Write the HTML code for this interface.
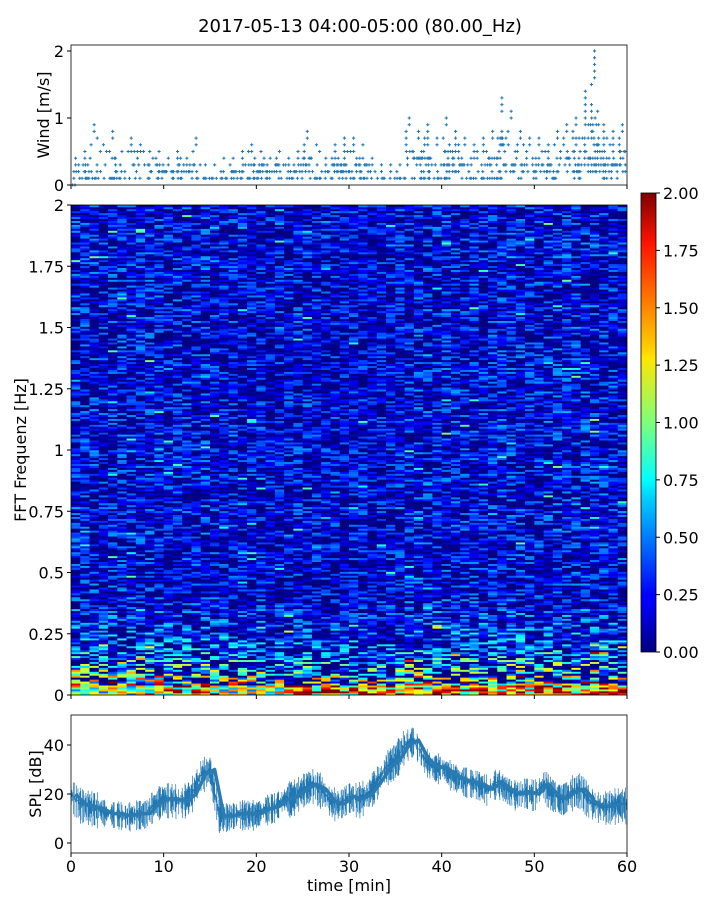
<!DOCTYPE html>
<html><head><meta charset="utf-8">
<style>
body{margin:0;background:#fff;width:720px;height:900px;overflow:hidden;font-family:"Liberation Sans","DejaVu Sans",sans-serif;}
svg text{font-family:"DejaVu Sans","Liberation Sans",sans-serif;fill:#000;}
</style></head>
<body>
<svg id="fig" width="720" height="900" xmlns="http://www.w3.org/2000/svg">
<defs>
<linearGradient id="jet" x1="0" y1="1" x2="0" y2="0">
<stop offset="0" stop-color="#00007f"/><stop offset="0.11" stop-color="#0000ff"/><stop offset="0.125" stop-color="#0000ff"/>
<stop offset="0.34" stop-color="#00d4ff"/><stop offset="0.375" stop-color="#00ffff"/><stop offset="0.5" stop-color="#7dff7a"/>
<stop offset="0.64" stop-color="#ffe600"/><stop offset="0.66" stop-color="#ffd000"/><stop offset="0.89" stop-color="#ff1300"/><stop offset="1" stop-color="#7f0000"/>
</linearGradient>
<clipPath id="cpSpec"><rect x="71" y="205" width="556" height="490"/></clipPath>
<clipPath id="cpSpl"><rect x="71" y="715" width="556" height="138"/></clipPath>
</defs>
<text x="360" y="32" font-size="18" text-anchor="middle">2017-05-13 04:00-05:00 (80.00_Hz)</text>
<g id="wind"></g>
<g id="spec"></g>
<g id="cbar"></g>
<g id="spl"></g>
</svg>
<script>
const minutes = [];
for (let i = 0; i < 60; i++) minutes.push(i);
const windMin = [0,0.1,0.1,0.1,0.1,0.1,0.1,0.1,0.1,0.1,0.1,0.1,0.1,0.1,0.1,0.1,0.1,0.1,0.1,0.1,0.1,0.1,0.1,0.1,0.1,0.1,0.1,0.1,0.1,0.1,0.1,0.1,0.1,0.1,0.1,0.1,0.1,0.1,0.1,0.1,0.1,0.1,0.1,0.1,0.1,0.1,0.1,0.2,0.1,0.1,0.1,0.1,0.1,0.2,0.1,0.2,0.2,0.1,0.1,0.2];
const windMax = [0.4,0.5,0.9,0.6,0.8,0.5,0.7,0.6,0.5,0.5,0.4,0.5,0.4,0.7,0.3,0.3,0.4,0.4,0.5,0.6,0.5,0.4,0.5,0.4,0.5,0.8,0.6,0.4,0.6,0.7,0.7,0.6,0.4,0.3,0.3,0.3,1.0,0.8,0.9,0.7,1.0,0.8,0.7,0.6,0.7,0.8,1.3,1.1,0.8,0.7,0.7,0.6,0.8,0.9,1.0,1.4,2.0,0.9,0.8,0.9];
const lowBand = [1.4,1.2,1.5,1.2,1.3,1.4,1.2,1.3,1.5,1.4,1.6,1.8,1.9,2.0,2.0,2.0,1.4,1.2,1.2,1.3,1.2,1.3,1.5,1.7,1.6,1.8,1.9,2.0,1.8,1.9,2.0,1.9,1.8,1.9,1.9,1.7,1.6,1.8,1.5,1.9,1.7,1.9,2.0,1.9,1.9,1.8,2.0,1.9,2.0,1.9,1.9,2.0,1.9,1.9,2.0,1.9,2.0,1.9,1.9,2.0];
const bgLevel = [0.38,0.36,0.37,0.35,0.36,0.37,0.35,0.36,0.37,0.36,0.35,0.36,0.37,0.36,0.38,0.35,0.33,0.34,0.33,0.33,0.34,0.33,0.33,0.34,0.35,0.35,0.34,0.33,0.33,0.32,0.33,0.33,0.31,0.32,0.33,0.34,0.37,0.38,0.37,0.36,0.37,0.36,0.37,0.36,0.35,0.36,0.37,0.36,0.37,0.36,0.36,0.37,0.38,0.37,0.39,0.38,0.39,0.37,0.36,0.36];
const freqProfile = [4.0,3.6,3.1,2.6,2.2,2.0,1.8,1.6,1.5,1.4,1.35,1.3,1.2,1.15,1.1,1.05,1.0];
const splMean = [20,16,15,14,12,12,11,12,12,16,18,18,17,20,28,30,11,11,12,12,12,14,15,18,19,22,24,22,17,16,19,18,20,25,31,34,40,42,35,31,31,28,26,25,24,22,25,22,20,21,20,24,20,18,21,22,17,15,15,16];
const splRange = [7,7,7,6,6,6,6,6,6,7,7,7,7,7,7,7,6,6,6,6,6,6,6,7,7,7,7,7,7,7,7,7,7,7,7,7,6,6,6,6,6,6,6,6,6,6,6,6,6,6,6,7,6,6,7,7,7,7,7,7];
const windTicks = [0,1,2];
const specTicks = ['0','0.25','0.5','0.75','1','1.25','1.5','1.75','2'];
const cbTicks = ['0.00','0.25','0.50','0.75','1.00','1.25','1.50','1.75','2.00'];
const splTicks = [0,20,40];
const timeTicks = [0,10,20,30,40,50,60];

const NS='http://www.w3.org/2000/svg';
function mk(tag, attrs, parent){const e=document.createElementNS(NS,tag);for(const k in attrs)e.setAttribute(k,attrs[k]);parent.appendChild(e);return e;}
const X = m => 71 + m*556/60;
const Yw = v => 185 - v*67;
const Yf = f => 695 - f*245;
const Ys = v => 843 - v*2.45;
const Yc = v => 652 - v*229.5;
function jet(v){v=Math.max(0,Math.min(1,v));
 const r=Math.max(0,Math.min(1,1.5-Math.abs(4*v-3))),g=Math.max(0,Math.min(1,1.5-Math.abs(4*v-2))),b=Math.max(0,Math.min(1,1.5-Math.abs(4*v-1)));
 return `rgb(${Math.round(r*255)},${Math.round(g*255)},${Math.round(b*255)})`;}
function tex(a,b){let h=(a*374761393+b*668265263)>>>0;h=((h^(h>>>13))*1274126177)>>>0;return ((h^(h>>>16))%1000)/1000;}

// ---- Wind panel
const wind=document.getElementById('wind');
const wp=mk('g',{},wind);
minutes.forEach(m=>{
  for(let lv=Math.round(windMin[m]*10); lv<=Math.round(windMax[m]*10); lv++){
    const v=lv/10; const frac=(v-windMin[m])/Math.max(0.1,windMax[m]-windMin[m]);
    const n = frac>0.8?1:(frac>0.5?3:8);
    for(let s=0;s<n;s++){
      if(n>1 && tex(m*13+lv,s+3)<0.3) continue;
      const x=X(m+(s+0.5)/n); const y=Yw(v);
      const p=mk('path',{d:`M${x-1.6},${y}h3.2M${x},${y-1.6}v3.2`,stroke:'#1f77b4','stroke-width':1},wp);
      
      
    }
  }
});
const wf=mk('rect',{x:71,y:45,width:556,height:140,fill:'none',stroke:'#000','stroke-width':0.8},wind);

windTicks.forEach(t=>{mk('line',{x1:67,x2:71,y1:Yw(t),y2:Yw(t),stroke:'#000'},wind);
 const tt=mk('text',{x:64,y:Yw(t)+6,'font-size':16,'text-anchor':'end'},wind);tt.textContent=t;
 });
timeTicks.forEach(t=>mk('line',{x1:X(t),x2:X(t),y1:185,y2:189,stroke:'#000'},wind));
const wl=mk('text',{x:0,y:0,'font-size':16,'text-anchor':'middle',transform:'translate(49,115) rotate(-90)'},wind);wl.textContent='Wind [m/s]';


// ---- Spectrogram
const spec=document.getElementById('spec');
const sg=mk('g',{'clip-path':'url(#cpSpec)'},spec);
mk('rect',{x:71,y:205,width:556,height:490,fill:jet(0.17)},sg);
const NR=250, df=2/NR;
minutes.forEach(m=>{
  for(let r=0;r<NR;r++){
    const f=r*df;
    let v;
    const pi=Math.floor(f/0.025);
    const prof = pi<freqProfile.length?freqProfile[pi]:1.0;
    v = bgLevel[m]*prof;
    if(f<0.04) v = lowBand[m]*(0.8+0.45*tex(m,r));
    else v = v*(0.45+1.1*tex(m+7,r*3+1));
    if(f>=0.04 && tex(m*3,r+11)>0.92) v*=1.8;
    const c=mk('rect',{x:X(m),y:Yf(f+df),width:556/60+0.5,height:245*df+0.3,fill:jet(v/2)},sg);
    
    
  }
});
const sfr=mk('rect',{x:71,y:205,width:556,height:490,fill:'none',stroke:'#000','stroke-width':0.8},spec);

specTicks.forEach(t=>{const y=Yf(parseFloat(t));mk('line',{x1:67,x2:71,y1:y,y2:y,stroke:'#000'},spec);
 const tt=mk('text',{x:64,y:y+6,'font-size':16,'text-anchor':'end'},spec);tt.textContent=t;
 });
timeTicks.forEach(t=>mk('line',{x1:X(t),x2:X(t),y1:695,y2:699,stroke:'#000'},spec));
const sl=mk('text',{x:0,y:0,'font-size':16,'text-anchor':'middle',transform:'translate(26,450) rotate(-90)'},spec);sl.textContent='FFT Frequenz [Hz]';


// ---- Colorbar
const cb=document.getElementById('cbar');
const cr=mk('rect',{x:641,y:193,width:15,height:459,fill:'url(#jet)',stroke:'#000','stroke-width':0.8},cb);

cbTicks.forEach(t=>{const y=Yc(parseFloat(t));mk('line',{x1:656,x2:660,y1:y,y2:y,stroke:'#000'},cb);
 const tt=mk('text',{x:663,y:y+6,'font-size':16},cb);tt.textContent=t;
 });

// ---- SPL
const spl=document.getElementById('spl');
const pg=mk('g',{'clip-path':'url(#cpSpl)'},spl);
let d='';
minutes.forEach(m=>{
  for(let s=0;s<20;s++){
    const t=m+s/20;
    const mean=splMean[m]+(m<59?(splMean[m+1]-splMean[m])*s/20:0);
    const r=splRange[m]*(0.5+0.7*tex(m,s+50));
    d+=`M${X(t)},${Ys(mean+r*0.8)}L${X(t+0.03)},${Ys(mean-r)}`;
  }
});
const band=mk('path',{d:d,stroke:'#1f77b4','stroke-width':0.7,fill:'none'},pg);

let md='';
minutes.forEach(m=>{md+=(m?'L':'M')+X(m+0.5)+','+Ys(splMean[m]);});
const ml=mk('path',{d:md,stroke:'#2c7bb0','stroke-width':3.5,fill:'none','stroke-linejoin':'round'},pg);

const pfr=mk('rect',{x:71,y:715,width:556,height:138,fill:'none',stroke:'#000','stroke-width':0.8},spl);

splTicks.forEach(t=>{mk('line',{x1:67,x2:71,y1:Ys(t),y2:Ys(t),stroke:'#000'},spl);
 const tt=mk('text',{x:64,y:Ys(t)+6,'font-size':16,'text-anchor':'end'},spl);tt.textContent=t;
 });
timeTicks.forEach(t=>{mk('line',{x1:X(t),x2:X(t),y1:853,y2:857,stroke:'#000'},spl);
 const tt=mk('text',{x:X(t),y:872,'font-size':16,'text-anchor':'middle'},spl);tt.textContent=t;
 });
const pl=mk('text',{x:0,y:0,'font-size':16,'text-anchor':'middle',transform:'translate(41,784) rotate(-90)'},spl);pl.textContent='SPL [dB]';

const xl=mk('text',{x:349,y:891,'font-size':16,'text-anchor':'middle'},spl);xl.textContent='time [min]';

</script>
</body></html>
